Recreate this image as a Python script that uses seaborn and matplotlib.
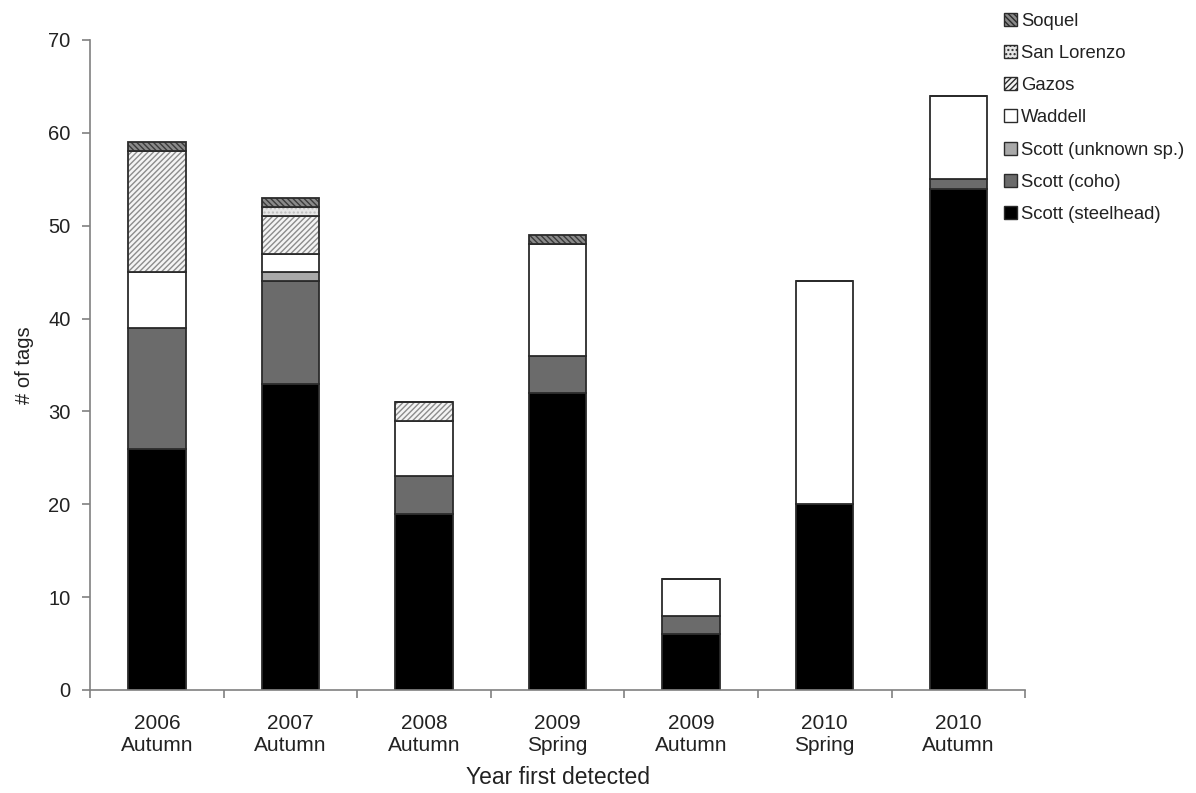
import numpy as np
import pandas as pd
import matplotlib
matplotlib.use("Agg")
import matplotlib.pyplot as plt
from matplotlib.patches import Patch
import seaborn as sns

# Data (tags per detection period and source)
periods = ["2006\nAutumn", "2007\nAutumn", "2008\nAutumn", "2009\nSpring",
           "2009\nAutumn", "2010\nSpring", "2010\nAutumn"]
scott_steelhead = [26, 33, 19, 32, 6, 20, 54]
scott_coho = [13, 11, 4, 4, 2, 0, 1]
scott_unknown = [0, 1, 0, 0, 0, 0, 0]
waddell = [6, 2, 6, 12, 4, 24, 9]
gazos = [13, 4, 2, 0, 0, 0, 0]
san_lorenzo = [0, 1, 0, 0, 0, 0, 0]
soquel = [1, 1, 0, 1, 0, 0, 0]

layers = [
    ("Scott (steelhead)", scott_steelhead, "#000000", "", "#000000"),
    ("Scott (coho)", scott_coho, "#6b6b6b", "", "#6b6b6b"),
    ("Scott (unknown sp.)", scott_unknown, "#a9a9a9", "", "#a9a9a9"),
    ("Waddell", waddell, "#ffffff", "", "#ffffff"),
    ("Gazos", gazos, "#f4f4f4", "//////", "#8c8c8c"),
    ("San Lorenzo", san_lorenzo, "#e6e6e6", "....", "#bdbdbd"),
    ("Soquel", soquel, "#8a8a8a", "\\\\\\\\\\\\", "#3a3a3a"),
]

sns.set_style("white")
plt.rcParams["font.family"] = ["Liberation Sans", "DejaVu Sans"]
plt.rcParams["hatch.linewidth"] = 1.0

fig = plt.figure(figsize=(11.96, 7.93), dpi=100)
ax = fig.add_axes([0.0753, 0.1299, 0.7818, 0.8197])

bottom = np.zeros(len(periods))
for name, vals, face, hatch, hcol in layers:
    sns.barplot(x=periods, y=vals, bottom=bottom, color=face, saturation=1,
                width=0.43, hatch=hatch, edgecolor=hcol, linewidth=0, ax=ax)
    # outline of each segment
    sns.barplot(x=periods, y=vals, bottom=bottom, color="#2b2b2b", fill=False,
                width=0.43, linewidth=1.3, ax=ax)
    bottom = bottom + np.array(vals)

ax.set_xlim(-0.5, len(periods) - 0.5)
ax.set_ylim(0, 70)
ax.set_yticks(range(0, 71, 10))

for s in ["top", "right"]:
    ax.spines[s].set_visible(False)
for s in ["left", "bottom"]:
    ax.spines[s].set_color("#808080")
    ax.spines[s].set_linewidth(1.2)

ax.tick_params(axis="y", direction="out", length=6, width=1.2, color="#808080",
               labelsize=14.5, labelcolor="#222222", pad=8, left=True)
ax.tick_params(axis="x", which="major", length=0, labelsize=15,
               labelcolor="#222222", pad=17)
ax.set_xticks(np.arange(-0.5, len(periods), 1.0), minor=True)
ax.tick_params(axis="x", which="minor", direction="out", length=6, width=1.2,
               color="#808080", bottom=True)

ax.set_xlabel("Year first detected", fontsize=16.5, color="#222222", labelpad=8)
ax.set_ylabel("# of tags", fontsize=14.5, color="#222222", labelpad=10)

handles = [Patch(facecolor=face, hatch=hatch, edgecolor="#2b2b2b", linewidth=1.0,
                 label=name) for name, vals, face, hatch, hcol in layers][::-1]
fig.legend(handles=handles, loc="upper left", bbox_to_anchor=(0.833, 0.993),
           frameon=False, fontsize=13.3, handlelength=0.7, handleheight=0.7,
           handletextpad=0.25, labelspacing=0.82, labelcolor="#222222",
           borderaxespad=0)

fig.savefig("out.png", dpi=100)
